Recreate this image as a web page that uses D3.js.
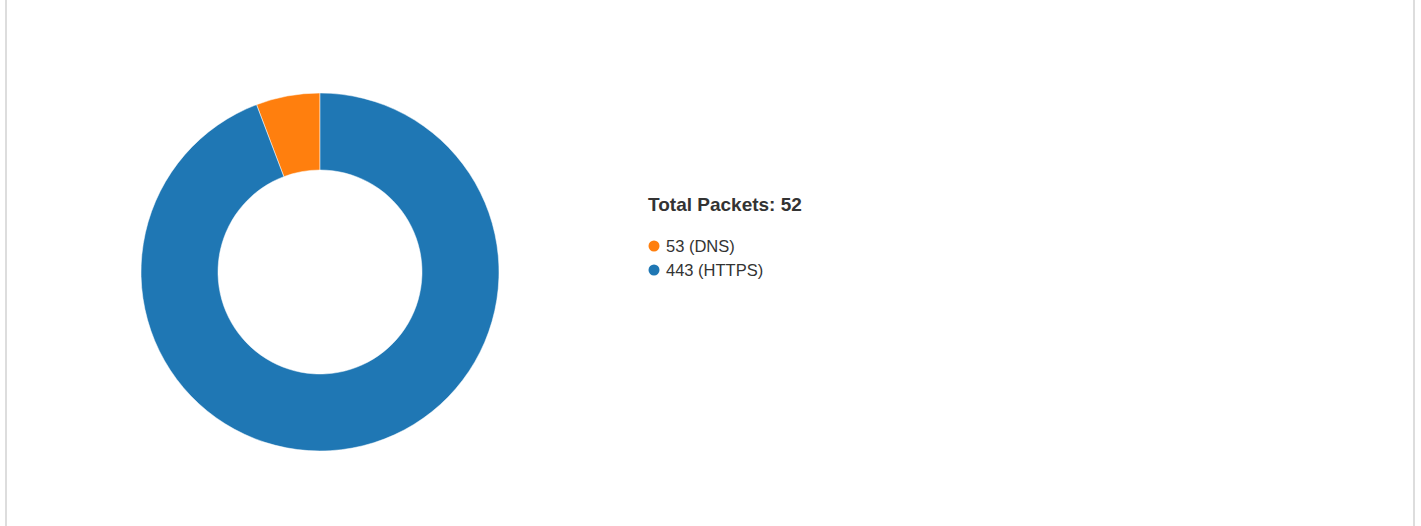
<!DOCTYPE html>
<html>
<head>
<meta charset="utf-8">
<script src="https://cdn.jsdelivr.net/npm/d3@7"></script>
<style>
  body { margin: 0; background: #fff; font-family: "Liberation Sans", Arial, sans-serif; }
  #chart { position: absolute; left: 5px; top: -10px; width: 1406px; height: 560px;
           border: 2px solid #ddd; }
</style>
</head>
<body>
<div id="chart"></div>
<script>
// port data
var ports = ["53 (DNS)", "443 (HTTPS)"];
var packets = [3, 49];
var colors = ["#ff7f0e", "#1f77b4"];

var svg = d3.select("body").append("svg")
  .attr("width", 1421).attr("height", 526)
  .style("position", "absolute").style("left", 0).style("top", 0);

var total = d3.sum(packets);
var data = ports.map(function(p, i) { return { port: p, value: packets[i], color: colors[i] }; });

// donut
var pie = d3.pie().value(function(d) { return d.value; });
var arc = d3.arc().innerRadius(102).outerRadius(179);

var g = svg.append("g").attr("transform", "translate(320,272)");
g.selectAll("path")
  .data(pie(data))
  .enter().append("path")
  .attr("d", arc)
  .attr("fill", function(d) { return d.data.color; })
  .attr("stroke", "#fff")
  .attr("stroke-width", 0.5);

// legend
var legend = svg.append("g").attr("transform", "translate(648,211)");
legend.append("text")
  .attr("x", 0).attr("y", 0)
  .attr("font-size", 19).attr("font-weight", "bold").attr("fill", "#333")
  .text("Total Packets: " + total);

var items = legend.selectAll(".item")
  .data(data)
  .enter().append("g")
  .attr("class", "item")
  .attr("transform", function(d, i) { return "translate(0," + (35 + i * 24) + ")"; });

items.append("circle")
  .attr("cx", 6).attr("cy", 0).attr("r", 5.5)
  .attr("fill", function(d) { return d.color; });

items.append("text")
  .attr("x", 18).attr("y", 6)
  .attr("font-size", 16.5).attr("fill", "#333")
  .text(function(d) { return d.port; });
</script>
</body>
</html>
